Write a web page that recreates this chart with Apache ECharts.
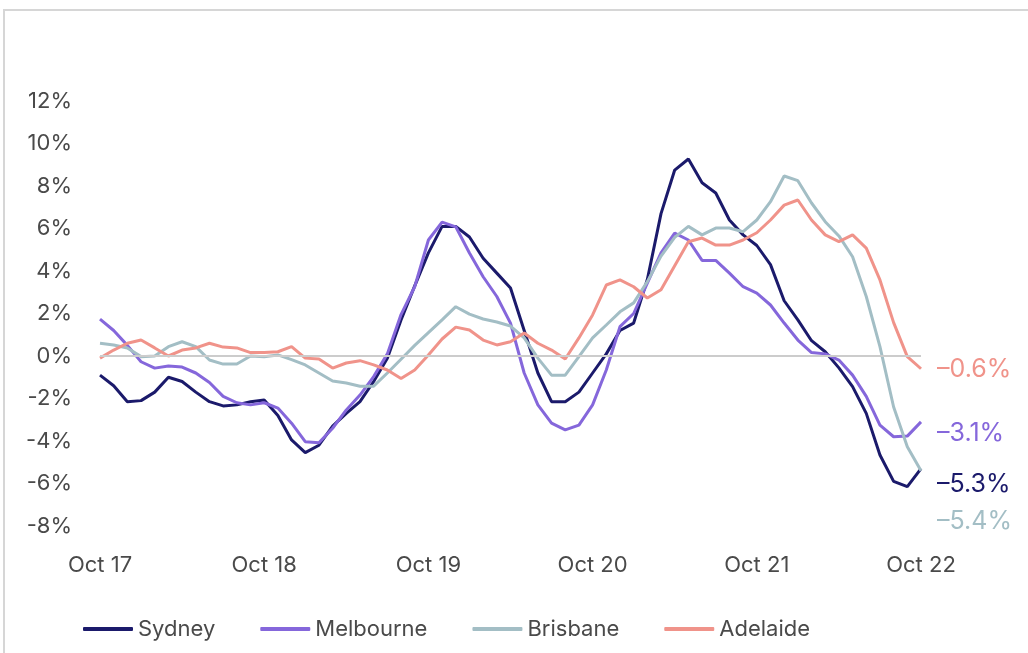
<!DOCTYPE html>
<html>
<head>
<meta charset="utf-8">
<script src="https://cdn.jsdelivr.net/npm/echarts@6/dist/echarts.min.js"></script>
<style>
  html, body { margin: 0; padding: 0; background: #fff; }
  #chart { width: 1028px; height: 653px; }
</style>
</head>
<body>
<div id="chart"></div>
<script>
// monthly categories, Oct 17 .. Oct 22
const monthNames = ['Oct', 'Nov', 'Dec', 'Jan', 'Feb', 'Mar', 'Apr', 'May', 'Jun', 'Jul', 'Aug', 'Sep']
const months = []
for (let i = 0; i <= 60; i++) {
  const yr = 17 + Math.floor((i + 9) / 12)
  months.push(monthNames[i % 12] + ' ' + yr)
}

const sydney = [
  -0.9, -1.4, -2.15, -2.1, -1.7, -1.0, -1.2, -1.7, -2.15, -2.35, -2.3, -2.15,
  -2.07, -2.8, -3.95, -4.55, -4.2, -3.3, -2.7, -2.15, -1.2, -0.1, 1.7, 3.3,
  4.85, 6.1, 6.1, 5.6, 4.6, 3.9, 3.2, 1.2, -0.8, -2.15, -2.15, -1.7,
  -0.8, 0.1, 1.2, 1.55, 3.6, 6.7, 8.75, 9.27, 8.15, 7.67, 6.4, 5.7,
  5.2, 4.3, 2.6, 1.7, 0.72, 0.2, -0.56, -1.44, -2.7, -4.66, -5.9, -6.15,
  -5.3
]
const melbourne = [
  1.74, 1.2, 0.5, -0.27, -0.57, -0.47, -0.52, -0.8, -1.25, -1.9, -2.2, -2.3,
  -2.2, -2.45, -3.16, -4.03, -4.08, -3.4, -2.54, -1.84, -0.97, 0.1, 1.95, 3.26,
  5.46, 6.3, 6.08, 4.85, 3.73, 2.8, 1.55, -0.8, -2.3, -3.16, -3.48, -3.25,
  -2.3, -0.66, 1.38, 2.0, 3.43, 4.85, 5.78, 5.46, 4.5, 4.5, 3.9, 3.26,
  2.96, 2.4, 1.55, 0.75, 0.16, 0.1, -0.19, -0.9, -1.9, -3.25, -3.8, -3.77,
  -3.1
]
const brisbane = [
  0.6, 0.52, 0.38, -0.03, 0.0, 0.44, 0.67, 0.44, -0.19, -0.38, -0.38, 0.0,
  -0.03, 0.05, -0.17, -0.42, -0.8, -1.18, -1.27, -1.42, -1.42, -0.8, -0.15, 0.5,
  1.1, 1.7, 2.32, 1.97, 1.74, 1.6, 1.41, 0.85, -0.1, -0.9, -0.9, -0.03,
  0.85, 1.46, 2.08, 2.5, 3.5, 4.7, 5.58, 6.1, 5.7, 6.02, 6.02, 5.85,
  6.4, 7.26, 8.47, 8.25, 7.2, 6.32, 5.65, 4.67, 2.8, 0.44, -2.4, -4.27,
  -5.4
]
const adelaide = [
  -0.1, 0.28, 0.6, 0.75, 0.38, 0.0, 0.28, 0.38, 0.6, 0.42, 0.38, 0.16,
  0.16, 0.2, 0.44, -0.1, -0.14, -0.57, -0.33, -0.22, -0.42, -0.66, -1.06, -0.66,
  0.05, 0.8, 1.36, 1.22, 0.75, 0.52, 0.67, 1.08, 0.6, 0.28, -0.14, 0.85,
  1.93, 3.34, 3.58, 3.26, 2.73, 3.12, 4.25, 5.38, 5.55, 5.22, 5.22, 5.46,
  5.8, 6.4, 7.1, 7.34, 6.4, 5.7, 5.38, 5.7, 5.08, 3.58, 1.57, -0.03,
  -0.6
]

const FONT = 'Inter'
const TEXT = '#4a4a4a'

function line(name, data, color, labelDy) {
  return {
    name,
    type: 'line',
    data,
    symbol: 'none',
    smooth: false,
    lineStyle: { color, width: 3 },
    itemStyle: { color },
    endLabel: {
      show: true,
      formatter: (p) => '\u2013' + Math.abs(p.value).toFixed(1) + '%',
      color,
      fontFamily: FONT,
      fontSize: 25,
      distance: 16,
      offset: [0, labelDy]
    }
  }
}

const chart = echarts.init(document.getElementById('chart'), null, { renderer: 'canvas' })

const series = [
  line('Sydney', sydney, '#1b1a6b', 16),
  line('Melbourne', melbourne, '#8567db', 12),
  line('Brisbane', brisbane, '#a3bec5', 51),
  line('Adelaide', adelaide, '#f0938a', 1)
]
// zero line
series[0].markLine = {
  silent: true,
  symbol: 'none',
  label: { show: false },
  lineStyle: { color: '#cccccc', width: 2, type: 'solid' },
  data: [{ yAxis: 0 }]
}

chart.setOption({
  backgroundColor: '#fff',
  animation: false,
  graphic: [{
    type: 'rect',
    shape: { x: 4, y: 10, width: 1040, height: 660 },
    style: { fill: 'none', stroke: '#d6d6d6', lineWidth: 2 },
    silent: true
  }],
  grid: { left: 100, right: 107, top: 101, bottom: 127 },
  legend: {
    bottom: 8,
    left: 78,
    itemWidth: 50,
    itemHeight: 4,
    itemGap: 45,
    icon: 'roundRect',
    textStyle: { fontFamily: FONT, fontSize: 22, color: TEXT },
    data: ['Sydney', 'Melbourne', 'Brisbane', 'Adelaide']
  },
  xAxis: {
    type: 'category',
    data: months,
    boundaryGap: false,
    axisLine: { show: false },
    axisTick: { show: false },
    axisLabel: {
      interval: 11,
      margin: 28,
      fontFamily: FONT,
      fontSize: 22,
      color: TEXT
    }
  },
  yAxis: {
    type: 'value',
    min: -8,
    max: 12,
    interval: 2,
    splitLine: { show: false },
    axisLine: { show: false },
    axisTick: { show: false },
    axisLabel: {
      margin: 28,
      fontFamily: FONT,
      fontSize: 22,
      color: TEXT,
      formatter: '{value}%'
    }
  },
  series
})
</script>
</body>
</html>
